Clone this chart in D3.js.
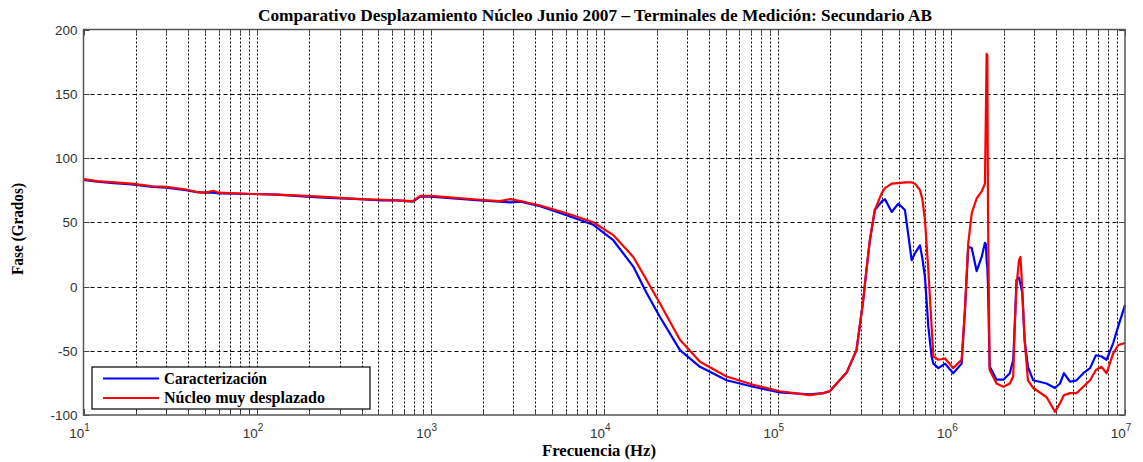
<!DOCTYPE html>
<html>
<head>
<meta charset="utf-8">
<title>Comparativo Desplazamiento Núcleo</title>
<script src="https://cdn.jsdelivr.net/npm/d3@7"></script>
<style>
body { margin: 0; background: #fff; }
.tick-label { font: 13.5px "Liberation Sans", Arial, sans-serif; fill: #333; }
.serif-bold { font-family: "Liberation Serif", "DejaVu Serif", serif; font-weight: bold; fill: #000; }
.grid-h { stroke: #000; stroke-width: 1; stroke-dasharray: 4,3; }
.grid-v { stroke: #000; stroke-width: 1; stroke-dasharray: 2,2; }
.series { fill: none; stroke-width: 2.2; stroke-linejoin: round; }
</style>
</head>
<body>
<script>
// frequency points (Hz) shared by both curves
var freq = [10, 12, 15, 19, 25, 30, 39, 45, 50, 56, 60, 95, 130, 193, 260, 392, 520, 640, 790, 870,
  1000, 1920, 2500, 2870, 3300, 4270, 6070, 8650, 11270, 14700, 17540, 20900, 27300, 35600, 50700,
  72100, 102800, 153000, 183000, 199000, 249000, 284000, 310500, 324000, 339000, 362000, 396000,
  414000, 453000, 494000, 540000, 590000, 617000, 659000, 680000, 704000, 736000, 769000, 787000,
  841000, 919000, 1024000, 1145000, 1197000, 1250000, 1309000, 1397000, 1494000, 1560000, 1580000,
  1595000, 1610000, 1625000, 1660000, 1820000, 1990000, 2170000, 2270000, 2320000, 2370000, 2450000,
  2500000, 2560000, 2640000, 2760000, 2960000, 3530000, 3950000, 4220000, 4450000, 4820000, 5260000,
  5750000, 6290000, 6800000, 7330000, 7830000, 8550000, 9140000, 10000000];

// Caracterización (blue)
var faseCaract = [83, 81.5, 80.5, 79.5, 77.5, 77, 75, 73.5, 73, 73, 72.5, 72, 71.5, 70, 69, 68, 67, 67, 66, 70,
  70, 67, 66, 65.5, 66, 62.5, 55.5, 48, 36, 15.5, -5, -23.5, -49.5, -62.5, -73,
  -78, -82.5, -84, -83, -81.5, -67, -49.5, -10.5, 13, 36, 59.5, 66,
  68, 58, 64.5, 59.5, 20.5, 26, 32, 22, 7.5, -31, -54.5, -60,
  -63.5, -60, -67.5, -60, -18, 31, 30, 12, 23, 34, 33,
  20, 15, 0, -62, -72.5, -72.5, -67.5, -57, -28.5, 5, 7,
  2, -5, -41.5, -62.5, -73, -75.5, -79, -75.5, -67.5, -74, -73,
  -67.5, -63.5, -53.5, -54.5, -57, -44, -31, -14.5];

// Núcleo muy desplazado (red)
var faseDespl = [83.5, 82, 81, 80, 78, 77.5, 75.5, 73.5, 73, 74.5, 73, 72, 71.5, 70.5, 69.5, 68, 67.5, 67, 66.5, 70.5,
  70.5, 67.5, 66.5, 68, 66.5, 63, 57, 50, 40, 23, 5, -13, -41.5, -58.5, -70,
  -76.5, -81.5, -84.5, -83, -81.5, -67, -49.5, -10.5, 13, 36, 59.5, 72.5,
  76.5, 80, 80.5, 81, 81, 80, 75, 68, 52, 13, -31, -54.5,
  -57, -56, -63.5, -57, -18, 33.5, 57, 68.5, 74, 80, 136,
  181, 180, 57, -65, -75.5, -78, -75.5, -70, -28.5, 0, 20.5,
  23, -2.5, -41.5, -73, -79, -86, -97.5, -91, -84.5, -83, -83,
  -78, -73, -65, -62.5, -67.5, -52, -45.5, -44];

var yTicks = [-100, -50, 0, 50, 100, 150, 200];
var xDecades = [1, 2, 3, 4, 5, 6, 7];

var width = 1143, height = 462;
var margin = {left: 83.5, right: 18, top: 29.5, bottom: 47};

var svg = d3.select("body").append("svg")
    .attr("width", width)
    .attr("height", height);

var x = d3.scaleLog()
    .domain([10, 1e7])
    .range([margin.left, width - margin.right]);

var y = d3.scaleLinear()
    .domain([-100, 200])
    .range([height - margin.bottom, margin.top]);

var x0 = x.range()[0], x1 = x.range()[1];
var y0 = y.range()[0], y1 = y.range()[1];

// log grid: every 1..9 within each decade
var minor = [];
for (var d = 1; d < 7; d++) {
  for (var m = 1; m <= 9; m++) minor.push(m * Math.pow(10, d));
}
minor.push(1e7);

var grid = svg.append("g");
grid.selectAll(".grid-v")
    .data(minor.filter(function(f) { return f > 10 && f < 1e7; }))
    .enter().append("line")
    .attr("class", "grid-v")
    .attr("x1", function(f) { return Math.round(x(f)) + 0.5; })
    .attr("x2", function(f) { return Math.round(x(f)) + 0.5; })
    .attr("y1", y1)
    .attr("y2", y0);

grid.selectAll(".grid-h")
    .data(yTicks.filter(function(v) { return v > -100 && v < 200; }))
    .enter().append("line")
    .attr("class", "grid-h")
    .attr("x1", x0)
    .attr("x2", x1)
    .attr("y1", function(v) { return Math.round(y(v)) + 0.5; })
    .attr("y2", function(v) { return Math.round(y(v)) + 0.5; });

// curves
var line = d3.line()
    .x(function(d) { return x(d[0]); })
    .y(function(d) { return y(d[1]); });

svg.append("path")
    .datum(freq.map(function(f, i) { return [f, faseCaract[i]]; }))
    .attr("class", "series")
    .attr("stroke", "#0000ff")
    .attr("d", line);

svg.append("path")
    .datum(freq.map(function(f, i) { return [f, faseDespl[i]]; }))
    .attr("class", "series")
    .attr("stroke", "#ff0000")
    .attr("d", line);

// ticks inside the box, all four sides
var ticks = svg.append("g").attr("stroke", "#444").attr("stroke-width", 1);
minor.forEach(function(f) {
  var lg = Math.log10(f);
  var major = Math.abs(lg - Math.round(lg)) < 1e-9;
  var len = major ? 6 : 3.5;
  var px = Math.round(x(f)) + 0.5;
  ticks.append("line").attr("x1", px).attr("x2", px).attr("y1", y0).attr("y2", y0 - len);
  ticks.append("line").attr("x1", px).attr("x2", px).attr("y1", y1).attr("y2", y1 + len);
});
yTicks.forEach(function(v) {
  var py = Math.round(y(v)) + 0.5;
  ticks.append("line").attr("x1", x0).attr("x2", x0 + 6).attr("y1", py).attr("y2", py);
  ticks.append("line").attr("x1", x1).attr("x2", x1 - 6).attr("y1", py).attr("y2", py);
});

// box
svg.append("rect")
    .attr("x", x0)
    .attr("y", y1)
    .attr("width", x1 - x0)
    .attr("height", y0 - y1)
    .attr("fill", "none")
    .attr("stroke", "#555")
    .attr("stroke-width", 1.5);

// y tick labels
svg.selectAll(".ylab")
    .data(yTicks)
    .enter().append("text")
    .attr("class", "tick-label")
    .attr("x", x0 - 6)
    .attr("y", function(v) { return y(v) + 5; })
    .attr("text-anchor", "end")
    .text(function(v) { return v; });

// x tick labels 10^n
var xl = svg.selectAll(".xlab")
    .data(xDecades)
    .enter().append("text")
    .attr("class", "tick-label")
    .attr("x", function(d) { return x(Math.pow(10, d)) - 4; })
    .attr("y", y0 + 23)
    .attr("text-anchor", "middle");
xl.append("tspan").text("10");
xl.append("tspan")
    .attr("dy", -7)
    .style("font-size", "10px")
    .text(function(d) { return d; });

// title and axis labels
svg.append("text")
    .attr("class", "serif-bold")
    .attr("x", 595)
    .attr("y", 21)
    .attr("text-anchor", "middle")
    .style("font-size", "16px")
    .attr("textLength", 674)
    .attr("lengthAdjust", "spacingAndGlyphs")
    .text("Comparativo Desplazamiento Núcleo Junio 2007 – Terminales de Medición: Secundario AB");

svg.append("text")
    .attr("class", "serif-bold")
    .attr("x", 599)
    .attr("y", 456)
    .attr("text-anchor", "middle")
    .style("font-size", "16px")
    .attr("textLength", 114)
    .attr("lengthAdjust", "spacingAndGlyphs")
    .text("Frecuencia (Hz)");

svg.append("text")
    .attr("class", "serif-bold")
    .attr("transform", "translate(23,229) rotate(-90)")
    .attr("text-anchor", "middle")
    .style("font-size", "16px")
    .attr("textLength", 92)
    .attr("lengthAdjust", "spacingAndGlyphs")
    .text("Fase (Grados)");

// legend
var legend = svg.append("g").attr("transform", "translate(92,367)");
legend.append("rect")
    .attr("width", 278)
    .attr("height", 42)
    .attr("fill", "#fff")
    .attr("stroke", "#000")
    .attr("stroke-width", 1.2);

var legendItems = [
  {name: "Caracterización", color: "#0000ff", w: 103},
  {name: "Núcleo muy desplazado", color: "#ff0000", w: 161}
];
legendItems.forEach(function(it, i) {
  var ly = 11.5 + i * 19.5;
  legend.append("line")
      .attr("x1", 11).attr("x2", 67)
      .attr("y1", ly).attr("y2", ly)
      .attr("stroke", it.color)
      .attr("stroke-width", 2);
  legend.append("text")
      .attr("class", "serif-bold")
      .attr("x", 72)
      .attr("y", ly + 5)
      .style("font-size", "16px")
      .attr("textLength", it.w)
      .attr("lengthAdjust", "spacingAndGlyphs")
      .text(it.name);
});
</script>
</body>
</html>
